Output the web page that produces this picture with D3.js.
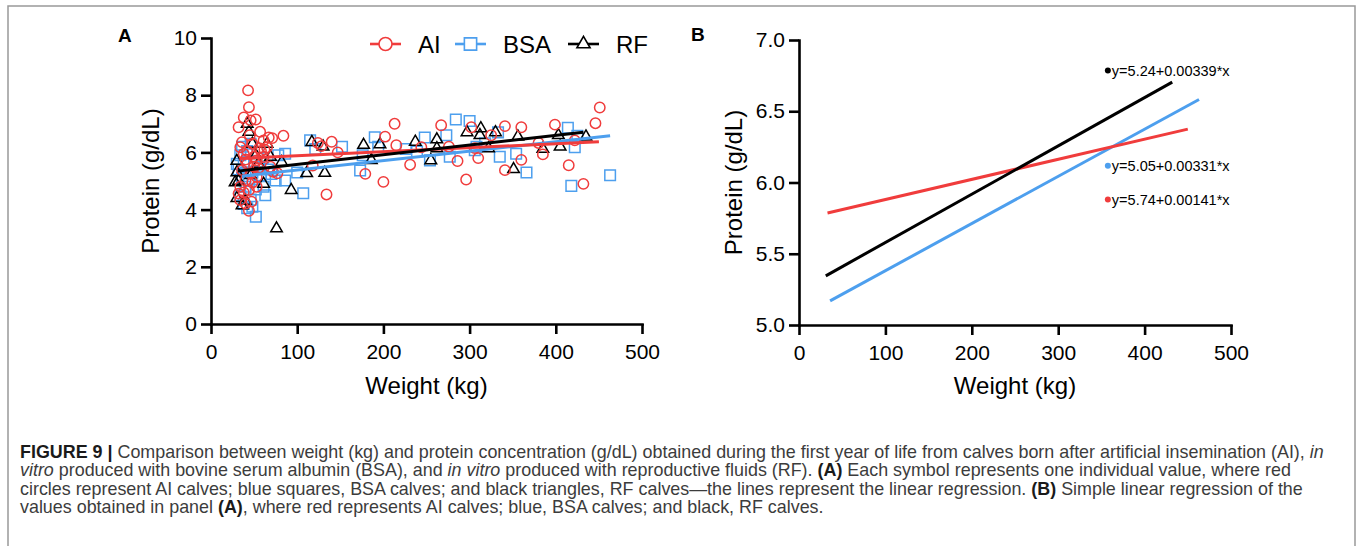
<!DOCTYPE html>
<html lang="en">
<head>
<meta charset="utf-8">
<title>Figure 9 - Weight vs protein</title>
<script src="https://cdn.jsdelivr.net/npm/d3@7"></script>
<style>
  body { margin: 0; background: #fff; }
  svg { display: block; font-family: "Liberation Sans", Arial, Helvetica, sans-serif; }
</style>
</head>
<body>
<script>
// size of the page
var w = 1358;
var h = 546;

// groups and their colours
var groups = ["AI", "BSA", "RF"];
var colors = ["#f03c3c", "#4d9fee", "#000000"];

// individual values: [weight kg, protein g/dL]
var aiPoints = [
  [43, 8.17], [44, 7.58], [38, 7.22], [32, 6.88], [46, 7.12], [52, 7.15], [57, 6.72], [36, 6.36],
  [34, 6.18], [38, 5.95], [48, 6.3], [61, 6.42], [67, 6.52], [71, 6.5], [65, 6.18], [61, 5.84],
  [53, 5.72], [42, 5.6], [36, 5.38], [46, 5.26], [53, 5.14], [40, 5.02], [34, 4.8], [44, 4.68],
  [53, 4.8], [32, 4.56], [34, 4.33], [40, 4.21], [44, 3.96], [47, 4.28], [69, 5.5], [77, 5.27],
  [72, 5.32], [84, 6.58], [58, 6.05], [50, 5.85], [42, 6.05], [55, 5.45], [48, 4.95], [38, 4.6],
  [56, 6.15], [45, 6.6], [62, 6.1], [50, 5.5], [40, 5.75],
  [118, 5.54], [124, 6.33], [128, 6.22], [140, 6.37], [147, 6.0], [134, 4.53], [179, 5.25],
  [202, 6.55], [200, 4.97], [213, 7.0], [215, 6.25], [231, 5.57], [244, 6.18], [267, 6.95],
  [276, 6.2], [286, 5.7], [296, 5.05], [302, 6.88], [310, 5.8], [306, 6.15], [325, 6.6],
  [341, 6.92], [341, 5.38], [360, 6.88], [360, 5.74], [380, 6.33], [385, 5.93], [399, 6.97],
  [415, 5.55], [422, 6.42], [432, 4.9], [446, 7.02], [451, 7.57]
];
var bsaPoints = [
  [36, 6.2], [34, 5.9], [38, 5.6], [32, 5.4], [36, 5.1], [40, 4.8], [34, 4.5], [38, 4.2],
  [42, 4.05], [52, 3.75], [46, 4.35], [44, 5.0], [48, 5.3], [50, 5.7], [42, 6.05], [46, 6.3],
  [54, 6.0], [56, 5.5], [52, 4.7], [58, 5.2], [61, 4.8], [63, 4.5], [60, 5.8], [66, 5.4],
  [70, 5.25], [75, 5.02], [86, 5.02], [86, 5.95], [78, 5.9], [40, 5.3], [30, 5.6], [48, 4.1],
  [100, 5.3], [107, 4.57], [115, 6.42], [121, 6.12], [152, 6.2], [173, 5.37], [176, 5.9],
  [190, 6.53], [194, 6.2], [226, 6.12], [239, 6.03], [248, 6.52], [254, 5.72], [273, 6.6],
  [277, 5.85], [284, 7.15], [300, 7.1], [306, 6.08], [308, 6.2], [318, 6.32], [333, 6.7],
  [335, 5.85], [354, 5.95], [366, 5.3], [414, 6.86], [418, 4.83], [422, 6.18], [425, 6.58],
  [463, 5.2]
];
var rfPoints = [
  [30, 5.3], [28, 4.95], [30, 4.4], [36, 4.15], [42, 7.0], [44, 6.72], [48, 6.3], [52, 5.9],
  [30, 5.7], [32, 5.0], [40, 4.3], [61, 4.9], [65, 6.3], [69, 5.84], [55, 5.6], [46, 5.2],
  [76, 3.34], [82, 5.66], [93, 4.68], [111, 5.27], [117, 6.36], [130, 6.2], [132, 5.28],
  [177, 6.26], [186, 5.73], [196, 6.28], [237, 6.37], [255, 5.72], [262, 6.45], [262, 6.14],
  [297, 6.7], [313, 6.84], [312, 6.6], [330, 6.7], [322, 6.14], [351, 5.41], [356, 6.55],
  [385, 6.12], [403, 6.6], [405, 6.2], [435, 6.55]
];

// linear regression per group (AI, BSA, RF)
var intercepts = [5.74, 5.05, 5.24];
var slopes = [0.00141, 0.00331, 0.00339];
var fitFrom = [33, 36, 31];
var fitTo = [450, 463, 432];

// where the equations sit in panel B (data units)
var labelX = 354;
var labelY = [5.88, 6.117, 6.786];

// ticks
var xTicks = [0, 100, 200, 300, 400, 500];
var yTicksA = [0, 2, 4, 6, 8, 10];
var yTicksB = [5.0, 5.5, 6.0, 6.5, 7.0];

// caption, one array per printed line: [text, style]
var captionLines = [
  [["FIGURE 9 | ", "b"], ["Comparison between weight (kg) and protein concentration (g/dL) obtained during the first year of life from calves born after artificial insemination (AI), ", ""], ["in", "i"]],
  [["vitro", "i"], [" produced with bovine serum albumin (BSA), and ", ""], ["in vitro", "i"], [" produced with reproductive fluids (RF). ", ""], ["(A)", "b"], [" Each symbol represents one individual value, where red", ""]],
  [["circles represent AI calves; blue squares, BSA calves; and black triangles, RF calves\u2014the lines represent the linear regression. ", ""], ["(B)", "b"], [" Simple linear regression of the", ""]],
  [["values obtained in panel ", ""], ["(A)", "b"], [", where red represents AI calves; blue, BSA calves; and black, RF calves.", ""]]
];

var svg = d3.select("body")
            .append("svg")
            .attr("width", w)
            .attr("height", h);

// outer frame
svg.append("rect")
   .attr("x", 8).attr("y", 6)
   .attr("width", 1347).attr("height", 600)
   .attr("fill", "none")
   .attr("stroke", "#999")
   .attr("stroke-width", 1.5);

// scales
var xA = d3.scaleLinear().domain([0, 500]).range([211, 642]);
var yA = d3.scaleLinear().domain([0, 10]).range([324, 38]);
var xB = d3.scaleLinear().domain([0, 500]).range([799, 1231]);
var yB = d3.scaleLinear().domain([5, 7]).range([325, 40]);

function drawAxes(x, y, yTicks, yFmt, titleX) {
  var gx = svg.append("g")
      .attr("transform", "translate(0," + y.range()[0] + ")")
      .call(d3.axisBottom(x).tickValues(xTicks).tickSize(10).tickSizeOuter(0).tickPadding(10));
  var gy = svg.append("g")
      .attr("transform", "translate(" + x.range()[0] + ",0)")
      .call(d3.axisLeft(y).tickValues(yTicks).tickFormat(yFmt).tickSize(10).tickSizeOuter(0).tickPadding(4));
  [gx, gy].forEach(function(g) {
    g.select(".domain").attr("stroke", "#000").attr("stroke-width", 2.6).attr("stroke-linecap", "square");
    g.selectAll(".tick line").attr("stroke", "#000").attr("stroke-width", 2.6);
    g.selectAll(".tick text").attr("font-size", 21).attr("fill", "#000")
     .attr("font-family", "Liberation Sans, Arial, sans-serif");
  });

  svg.append("text")
     .text("Weight (kg)")
     .attr("x", (x.range()[0] + x.range()[1]) / 2)
     .attr("y", 394)
     .attr("text-anchor", "middle")
     .attr("font-size", 24);

  svg.append("text")
     .text("Protein (g/dL)")
     .attr("transform", "translate(" + titleX + "," + (y.range()[0] + y.range()[1]) / 2 + ") rotate(-90)")
     .attr("text-anchor", "middle")
     .attr("dy", "0.35em")
     .attr("font-size", 24);
}

drawAxes(xA, yA, yTicksA, d3.format("d"), 151);
drawAxes(xB, yB, yTicksB, d3.format(".1f"), 734);

// panel letters
svg.append("text").text("A").attr("x", 118).attr("y", 42)
   .attr("font-weight", "bold").attr("font-size", 19);
svg.append("text").text("B").attr("x", 691).attr("y", 41)
   .attr("font-weight", "bold").attr("font-size", 19);

// panel A points
var squareSym = d3.symbol().type(d3.symbolSquare).size(112);
var triSym = d3.symbol().type(d3.symbolTriangle).size(58);

svg.append("g").selectAll("path")
   .data(bsaPoints)
   .enter()
   .append("path")
   .attr("d", squareSym)
   .attr("transform", function(d) { return "translate(" + xA(d[0]) + "," + yA(d[1]) + ")"; })
   .attr("fill", "none")
   .attr("stroke", colors[1])
   .attr("stroke-width", 1.5);

svg.append("g").selectAll("path")
   .data(rfPoints)
   .enter()
   .append("path")
   .attr("d", triSym)
   .attr("transform", function(d) { return "translate(" + xA(d[0]) + "," + yA(d[1]) + ")"; })
   .attr("fill", "none")
   .attr("stroke", colors[2])
   .attr("stroke-width", 1.5);

svg.append("g").selectAll("circle")
   .data(aiPoints)
   .enter()
   .append("circle")
   .attr("cx", function(d) { return xA(d[0]); })
   .attr("cy", function(d) { return yA(d[1]); })
   .attr("r", 5.2)
   .attr("fill", "none")
   .attr("stroke", colors[0])
   .attr("stroke-width", 1.5);

// regression lines, both panels
var order = [1, 0, 2];
[[xA, yA], [xB, yB]].forEach(function(s) {
  order.forEach(function(i) {
    var ends = [fitFrom[i], fitTo[i]].map(function(v) { return [v, intercepts[i] + slopes[i] * v]; });
    svg.append("path")
       .attr("d", d3.line().x(function(d) { return s[0](d[0]); }).y(function(d) { return s[1](d[1]); })(ends))
       .attr("stroke", colors[i])
       .attr("stroke-width", 3)
       .attr("fill", "none");
  });
});

// panel B equations
[0, 1, 2].forEach(function(i) {
  var lx = xB(labelX), ly = yB(labelY[i]);
  svg.append("circle").attr("cx", lx + 3).attr("cy", ly).attr("r", 3).attr("fill", colors[i]);
  svg.append("text")
     .text("y=" + intercepts[i] + "+" + slopes[i] + "*x")
     .attr("x", lx + 7)
     .attr("y", ly)
     .attr("dy", "0.35em")
     .attr("font-size", 14.5)
     .attr("fill", "#000");
});

// legend for panel A
var legendX = [370, 455, 568];
var legendTextX = [418, 503, 616];
var ly = 44;
groups.forEach(function(name, i) {
  svg.append("line")
     .attr("x1", legendX[i]).attr("x2", legendX[i] + 31)
     .attr("y1", ly).attr("y2", ly)
     .attr("stroke", colors[i]).attr("stroke-width", 2.6);
  var cx = legendX[i] + 15.5;
  if (i === 0) {
    svg.append("circle").attr("cx", cx).attr("cy", ly).attr("r", 6.5)
       .attr("fill", "#fff").attr("stroke", colors[i]).attr("stroke-width", 1.6);
  } else {
    svg.append("path")
       .attr("d", i === 1 ? d3.symbol().type(d3.symbolSquare).size(150)() : d3.symbol().type(d3.symbolTriangle).size(75)())
       .attr("transform", "translate(" + cx + "," + ly + ")")
       .attr("fill", "#fff").attr("stroke", colors[i]).attr("stroke-width", 1.6);
  }
  svg.append("text")
     .text(name)
     .attr("x", legendTextX[i])
     .attr("y", ly)
     .attr("dy", "0.36em")
     .attr("font-size", 24);
});

// caption
captionLines.forEach(function(line, k) {
  var t = svg.append("text")
     .attr("x", 20)
     .attr("y", 458 + k * 18.3)
     .attr("font-size", 17.9)
     .attr("fill", "#3c3c3c");
  line.forEach(function(seg) {
    t.append("tspan")
     .text(seg[0])
     .attr("font-weight", seg[1] === "b" ? "bold" : null)
     .attr("font-style", seg[1] === "i" ? "italic" : null)
     .attr("fill", seg[1] === "b" ? "#1a1a1a" : null);
  });
});
</script>
</body>
</html>
